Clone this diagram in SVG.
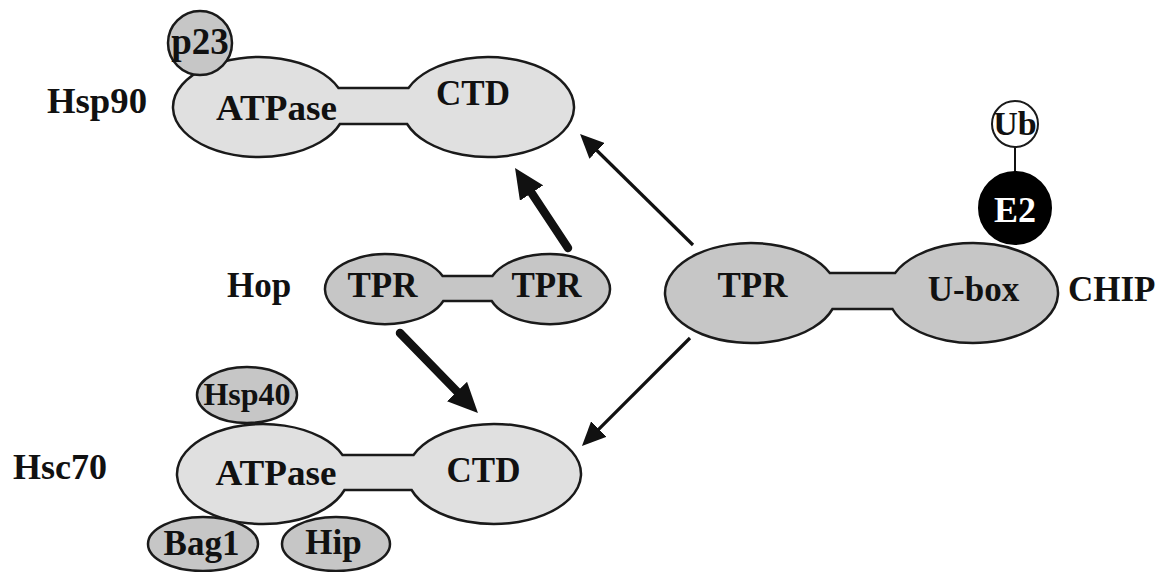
<svg xmlns="http://www.w3.org/2000/svg" width="1175" height="572" viewBox="0 0 1175 572">
<style>
  text { font-family: "Liberation Serif", "Times New Roman", serif; font-weight: bold; fill: #111; }
  .lbl { font-size: 35px; }
  .mid { text-anchor: middle; }
  .light { fill: #e0e0e0; stroke: #1a1a1a; stroke-width: 2.5; }
  .dark { fill: #c6c6c6; stroke: #1a1a1a; stroke-width: 2.5; }
  .thin { stroke: #111; stroke-width: 3.2; fill: none; }
  .thick { stroke: #111; stroke-width: 8.5; fill: none; stroke-linecap: round; }
</style>
<defs>
  <marker id="headThin" markerUnits="userSpaceOnUse" markerWidth="26" markerHeight="22" refX="4" refY="11" orient="auto">
    <path d="M0,0 L24,11 L0,22 Z" fill="#111"/>
  </marker>
  <marker id="headThick" markerUnits="userSpaceOnUse" markerWidth="32" markerHeight="28" refX="4" refY="14" orient="auto">
    <path d="M0,0 L30,14 L0,28 Z" fill="#111"/>
  </marker>
</defs>
<rect width="1175" height="572" fill="#ffffff"/>

<g id="connectors">
  <line class="thin" x1="693" y1="245" x2="594.3" y2="148.0" marker-end="url(#headThin)"/>
  <line class="thin" x1="690" y1="338" x2="596.1" y2="431.9" marker-end="url(#headThin)"/>
  <line class="thick" x1="568" y1="248" x2="529.4" y2="189.7" marker-end="url(#headThick)"/>
  <line class="thick" x1="400" y1="333" x2="459.8" y2="394.4" marker-end="url(#headThick)"/>
  <line stroke="#111" stroke-width="2" x1="1015" y1="147" x2="1015" y2="172"/>
</g>

<g id="hsp90">
  <text class="lbl" x="47" y="113" textLength="100" lengthAdjust="spacingAndGlyphs">Hsp90</text>
  <path class="light" d="M338.5,88 A86,50 0 1 0 339.9,124 L407.1,124 A86,50 0 1 0 408.5,88 Z"/>
  <text class="lbl mid" x="276.5" y="120" textLength="121" lengthAdjust="spacingAndGlyphs">ATPase</text>
  <text class="lbl mid" x="473" y="105">CTD</text>
</g>
<g id="p23">
  <circle class="dark" cx="200" cy="43" r="32"/>
  <text class="mid" x="200" y="54" font-size="37">p23</text>
</g>

<g id="hop">
  <text class="lbl" x="227" y="297">Hop</text>
  <path class="dark" d="M442.6,276 A61,35 0 1 0 443.3,301 L491.7,301 A61,35 0 1 0 492.4,276 Z"/>
  <text class="lbl mid" x="382.5" y="297">TPR</text>
  <text class="lbl mid" x="546.5" y="297">TPR</text>
</g>

<g id="chip">
  <path class="dark" d="M829.8,273 A86,50 0 1 0 832.5,309 L892.5,309 A85,50 0 1 0 895.1,273 Z"/>
  <text class="lbl mid" x="752.5" y="297">TPR</text>
  <text class="lbl mid" x="973.5" y="301">U-box</text>
  <text class="lbl" x="1068" y="301">CHIP</text>
</g>
<g id="e2">
  <circle cx="1015" cy="208" r="36" fill="#000" stroke="#000" stroke-width="2"/>
  <text class="mid" x="1015" y="222" font-size="36" style="fill:#ffffff">E2</text>
</g>
<g id="ub">
  <circle cx="1015" cy="124" r="23" fill="#ffffff" stroke="#1a1a1a" stroke-width="2"/>
  <text class="mid" x="1015" y="135" font-size="34">Ub</text>
</g>

<g id="hsc70">
  <text class="lbl" x="13" y="479" textLength="94" lengthAdjust="spacingAndGlyphs">Hsc70</text>
  <path class="light" d="M342.5,455 A86,50 0 1 0 344.5,490 L411.6,490 A87,50 0 1 0 413.5,455 Z"/>
  <text class="lbl mid" x="276" y="485" textLength="121" lengthAdjust="spacingAndGlyphs">ATPase</text>
  <text class="lbl mid" x="483.5" y="482">CTD</text>
</g>
<g id="hsp40">
  <ellipse class="dark" cx="247" cy="395" rx="50" ry="28"/>
  <text class="mid" x="247" y="405" font-size="32">Hsp40</text>
</g>
<g id="bag1">
  <ellipse class="dark" cx="203" cy="544" rx="55" ry="27"/>
  <text class="mid" x="201.5" y="555" font-size="35">Bag1</text>
</g>
<g id="hip">
  <ellipse class="dark" cx="336" cy="544" rx="54" ry="27"/>
  <text class="mid" x="333.5" y="554" font-size="35">Hip</text>
</g>
</svg>
